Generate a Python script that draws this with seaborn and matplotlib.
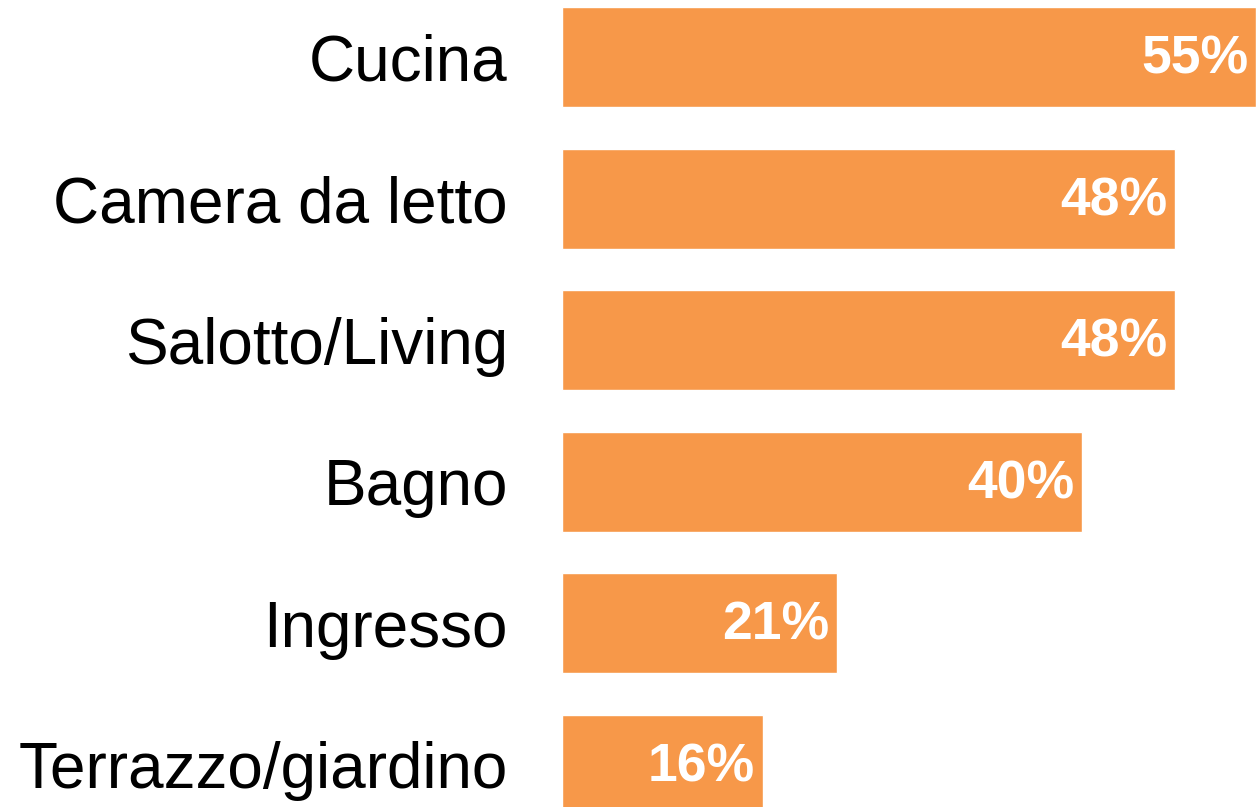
import matplotlib
matplotlib.use("Agg")
import matplotlib.pyplot as plt
import seaborn as sns
import pandas as pd

# values (bar lengths), and the printed labels
stanze = ["Cucina", "Camera da letto", "Salotto/Living", "Bagno", "Ingresso", "Terrazzo/giardino"]
valori = [55, 48.6, 48.6, 41.2, 21.8, 15.9]
etichette = ["55%", "48%", "48%", "40%", "21%", "16%"]

df = pd.DataFrame({"stanza": stanze, "valore": valori})

sns.set_style("white")
plt.rcParams['font.family'] = ['Liberation Sans', 'DejaVu Sans']

fig = plt.figure(figsize=(12.56, 8.07), dpi=100)
ax = fig.add_axes([562 / 1256, 0, 1 - 562 / 1256, 1])

sns.barplot(data=df, x="valore", y="stanza", color="#F79849", saturation=1,
            width=0.707, ax=ax)

ax.set_xlim(0, 55)
ax.set_ylim(5.30, -0.403)
ax.set_xlabel("")
ax.set_ylabel("")
ax.set_xticks([])
ax.tick_params(axis="y", length=0, pad=39, labelsize=46, labelcolor="black")
for s in ax.spines.values():
    s.set_visible(False)

for i, (v, t) in enumerate(zip(valori, etichette)):
    ax.text(v - 0.6, i + 0.02, t, ha="right", va="center", color="white",
            fontsize=38.5, fontweight="bold")

fig.savefig("out.png", dpi=100)
